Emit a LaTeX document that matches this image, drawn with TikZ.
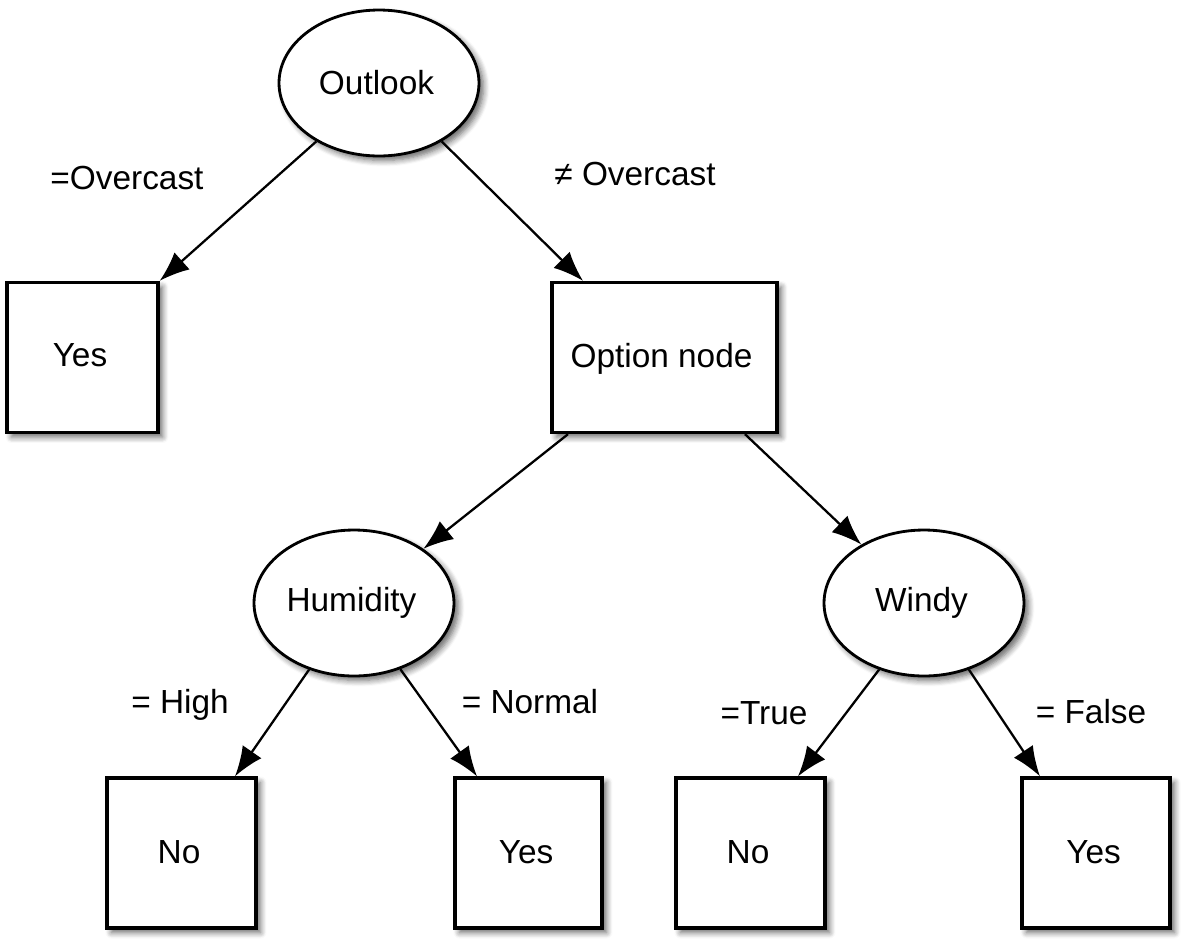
\documentclass[tikz,border=0pt]{standalone}
\usepackage{fontspec}
\setmainfont{Liberation Sans}
\usetikzlibrary{arrows.meta,shapes.geometric,shadows.blur}
\begin{document}
\begin{tikzpicture}[x=0.02cm,y=-0.02cm,
  font=\fontsize{19}{23}\selectfont,
  shad/.style={blur shadow={shadow xshift=0.09cm,shadow yshift=-0.09cm,shadow blur steps=6,shadow opacity=60,shadow blur radius=0.12cm}},
  boxnode/.style={draw,line width=1.9pt,fill=white,rectangle,minimum height=3cm,inner sep=0pt,shad,text depth=0pt},
  ellnode/.style={draw,line width=1.6pt,fill=white,ellipse,minimum width=4cm,minimum height=2.92cm,inner sep=0pt,shad},
  conn/.style={line width=1.3pt,-{Latex[length=17pt,width=13pt]}},
  lbl/.style={inner sep=0pt}]
\useasboundingbox (0,0) rectangle (1194,951);
\node[ellnode] (outlook) at (379,83) {\hspace*{-0.1cm}\raisebox{0.04cm}{Outlook}};
\node[boxnode,minimum width=3.02cm] (yes1) at (82.5,357.5) {\hspace*{-0.1cm}\raisebox{0.1cm}{Yes}};
\node[boxnode,minimum width=4.5cm] (option) at (664.5,357.5) {\hspace*{-0.12cm}\raisebox{0.1cm}{Option node}};
\node[ellnode] (humidity) at (354,603) {\hspace*{-0.1cm}Humidity};
\node[ellnode] (windy) at (924,603) {\hspace*{-0.1cm}Windy};
\node[boxnode,minimum width=2.98cm] (no1) at (181.5,853) {\hspace*{-0.1cm}\raisebox{0.05cm}{No}};
\node[boxnode,minimum width=2.94cm] (yes2) at (528.5,853) {\hspace*{-0.1cm}\raisebox{0.05cm}{Yes}};
\node[boxnode,minimum width=2.98cm] (no2) at (750.5,853) {\hspace*{-0.1cm}\raisebox{0.05cm}{No}};
\node[boxnode,minimum width=2.96cm] (yes3) at (1096,853) {\hspace*{-0.1cm}\raisebox{0.05cm}{Yes}};

\draw[conn] (outlook.223) -- (yes1.north east);
\draw[conn] (outlook.317) -- ([xshift=-1.63cm]option.north);
\draw[conn] ([xshift=-1.93cm]option.south) -- (humidity.38);
\draw[conn] ([xshift=1.61cm]option.south) -- (windy.137);
\draw[conn] (humidity.236) -- ([xshift=1.07cm]no1.north);
\draw[conn] (humidity.305) -- ([xshift=-1.03cm]yes2.north);
\draw[conn] (windy.236) -- ([xshift=0.95cm]no2.north);
\draw[conn] (windy.304) -- ([xshift=-1.12cm]yes3.north);

\node[lbl] (l1) at (127,178) {=Overcast};
\node[lbl] (l2) at (635,174) {≠ Overcast};
\node[lbl] (l3) at (180,705) {= High};
\node[lbl] (l4) at (530,702) {= Normal};
\node[lbl] (l5) at (764,713) {=True};
\node[lbl] (l6) at (1091,712) {= False};
\end{tikzpicture}
\end{document}
